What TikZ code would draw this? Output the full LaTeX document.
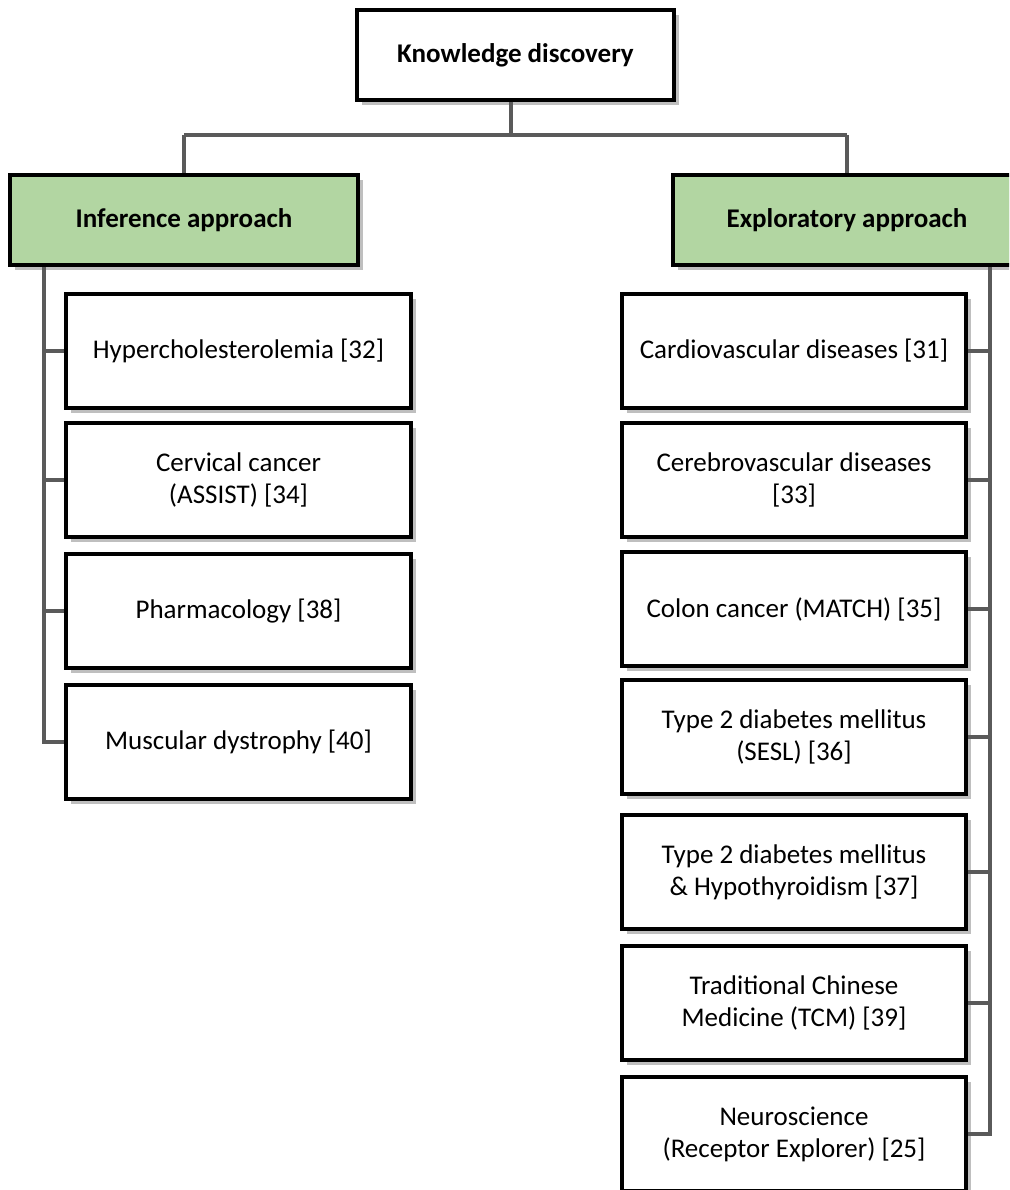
\documentclass[tikz,border=0pt]{standalone}
\usepackage{fontspec}
\setmainfont{Carlito}
\usepackage{tikz}
\usetikzlibrary{shadows}
\usetikzlibrary{calc,positioning}

\definecolor{leafgreen}{RGB}{178,214,162}
\definecolor{linkgray}{RGB}{90,90,90}

\begin{document}
\begin{tikzpicture}[x=1pt, y=-1pt,
    box/.style={draw=black, line width=3.5pt, fill=white, align=center,
        font=\fontsize{27}{32}\selectfont, inner sep=0pt,
        drop shadow={shadow xshift=5pt, shadow yshift=-5pt, fill=black!50, opacity=0.5}},
    leftbox/.style={box, minimum width=345pt, minimum height=114pt},
    rightbox/.style={box, minimum width=344pt, minimum height=114pt},
    headbox/.style={box, font=\bfseries\fontsize{27}{32}\selectfont, minimum height=90pt},
    link/.style={draw=linkgray, line width=3.5pt}]

    \useasboundingbox (0,0) rectangle (1009,1190);
    \clip (0,0) rectangle (1009,1190);

    % top of the tree
    \node[headbox, minimum width=317pt] (kd) at (515.5,55) {Knowledge discovery};
    \node[headbox, fill=leafgreen, minimum width=348pt] (inf) at (184,220) {Inference approach};
    \node[headbox, fill=leafgreen, minimum width=348pt] (exp) at (847,220) {Exploratory approach};

    \coordinate (J) at (511,135);
    \coordinate (L) at (44,0);
    \coordinate (R) at (990,0);

    % inference branch
    \node[leftbox] (hyp) at (238.5,351) {Hypercholesterolemia [32]};
    \node[leftbox] (cer) at (238.5,480) {Cervical cancer\\(ASSIST) [34]};
    \node[leftbox] (pha) at (238.5,611) {Pharmacology [38]};
    \node[leftbox] (mus) at (238.5,742) {Muscular dystrophy [40]};

    % exploratory branch
    \node[rightbox] (car) at (794,351) {Cardiovascular diseases [31]};
    \node[rightbox] (cbv) at (794,480) {Cerebrovascular diseases\\{}[33]};
    \node[rightbox] (col) at (794,609) {Colon cancer (MATCH) [35]};
    \node[rightbox] (tdm) at (794,737) {Type 2 diabetes mellitus\\(SESL) [36]};
    \node[rightbox] (thy) at (794,872) {Type 2 diabetes mellitus\\\& Hypothyroidism [37]};
    \node[rightbox] (tcm) at (794,1003) {Traditional Chinese\\Medicine (TCM) [39]};
    \node[rightbox] (neu) at (794,1134) {Neuroscience\\(Receptor Explorer) [25]};

    % connectors
    \draw[link] (kd.south -| J) -- (J);
    \draw[link] (J -| inf.north) -- (J -| exp.north);
    \draw[link] (J -| inf.north) -- (inf.north);
    \draw[link] (J -| exp.north) -- (exp.north);

    \draw[link] (inf.south -| L) |- (mus.west);
    \foreach \n in {hyp,cer,pha}
        \draw[link] (\n.west -| L) -- (\n.west);

    \draw[link] (exp.south -| R) |- (neu.east);
    \foreach \n in {car,cbv,col,tdm,thy,tcm}
        \draw[link] (\n.east -| R) -- (\n.east);

\end{tikzpicture}
\end{document}
